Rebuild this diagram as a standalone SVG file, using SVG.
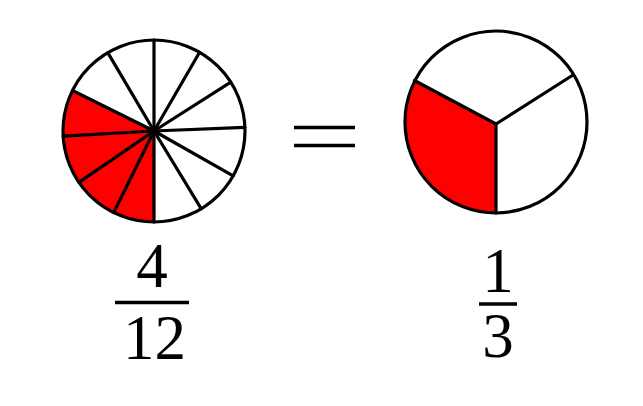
<svg xmlns="http://www.w3.org/2000/svg" width="643" height="406" viewBox="0 0 643 406">
<style>
.ln{stroke:#000;stroke-width:3.2;fill:none;stroke-linecap:round}
.red{fill:#ff0000;stroke:none}
.circ{fill:none;stroke:#000;stroke-width:3.2}
.num{font-family:"Liberation Serif","DejaVu Serif",serif;font-size:63px;fill:#000;text-anchor:middle}
.bar{stroke:#000;stroke-width:3.5}
</style>
<rect width="643" height="406" fill="#fff"/>
<g id="left-pie">
<path class="red" d="M154,131 L72.5,90.5 A91,91 0 0 0 154,222 Z"/>
<g class="ln">
<line x1="154" y1="131" x2="154" y2="40"/>
<line x1="154" y1="131" x2="107.8" y2="52.6"/>
<line x1="154" y1="131" x2="72.5" y2="90.5"/>
<line x1="154" y1="131" x2="63.1" y2="136.1"/>
<line x1="154" y1="131" x2="78.9" y2="182.4"/>
<line x1="154" y1="131" x2="113.7" y2="212.6"/>
<line x1="154" y1="131" x2="154" y2="222"/>
<line x1="154" y1="131" x2="201.3" y2="208.8"/>
<line x1="154" y1="131" x2="233.2" y2="175.8"/>
<line x1="154" y1="131" x2="244.9" y2="127.3"/>
<line x1="154" y1="131" x2="230.8" y2="82.2"/>
<line x1="154" y1="131" x2="199.6" y2="52.3"/>
</g>
<circle class="circ" cx="154" cy="131" r="91"/>
</g>
<g id="equals">
<line class="bar" x1="294" y1="127.5" x2="355" y2="127.5"/>
<line class="bar" x1="294" y1="145.5" x2="355" y2="145.5"/>
</g>
<g id="right-pie">
<path class="red" d="M496,124 L414.5,80.5 A91,91 0 0 0 496,213 Z"/>
<g class="ln">
<line x1="496" y1="124" x2="414.5" y2="80.5"/>
<line x1="496" y1="124" x2="573" y2="75"/>
<line x1="496" y1="124" x2="496" y2="213"/>
</g>
<circle class="circ" cx="496" cy="122" r="91"/>
</g>
<g id="frac-left">
<text class="num" x="152" y="287">4</text>
<line class="bar" x1="115" y1="302.5" x2="189" y2="302.5"/>
<text class="num" x="154.5" y="359">12</text>
</g>
<g id="frac-right">
<text class="num" x="498" y="292">1</text>
<line class="bar" x1="479" y1="304" x2="517" y2="304"/>
<text class="num" x="498" y="357">3</text>
</g>
</svg>
